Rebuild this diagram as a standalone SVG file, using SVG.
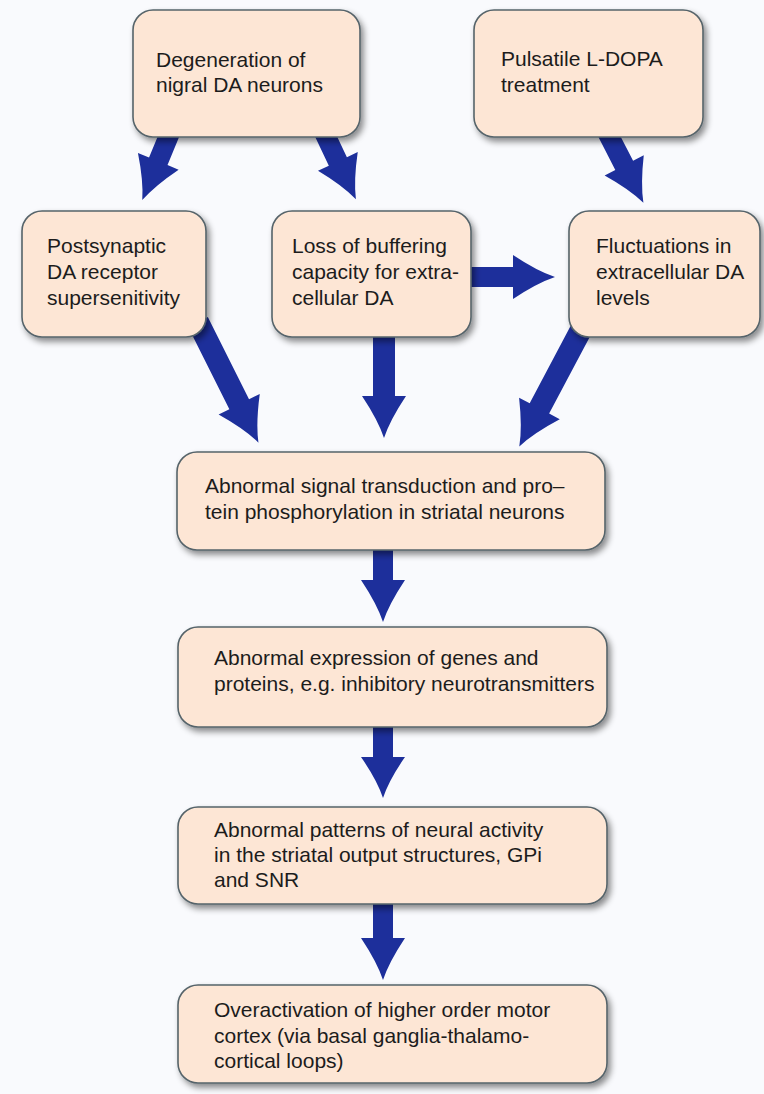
<svg xmlns="http://www.w3.org/2000/svg" width="764" height="1094" viewBox="0 0 764 1094">
<defs>
<style>
.box{fill:#fde6d5;stroke:#56646a;stroke-width:1.6;filter:url(#sh)}
.t{font-family:"Liberation Sans",Arial,sans-serif;font-size:21px;fill:#1c1c1c}
.ar{fill:#1d2f9b}
</style>
<filter id="sh" x="-10%" y="-10%" width="125%" height="130%">
<feDropShadow dx="3" dy="4" stdDeviation="3" flood-color="#000" flood-opacity="0.45"/>
</filter>
</defs>
<rect width="764" height="1094" fill="#f9fafd"/>
<g id="connectors">
<path class="ar" transform="translate(172,128) rotate(22.4)" d="M-10,0 L-10,36 L-22,36 Q-6,60 0,78 Q6,60 22,36 L10,36 L10,0 Z"/>
<path class="ar" transform="translate(322,128) rotate(-25.4)" d="M-10,0 L-10,37 L-22,37 Q-6,61 0,79 Q6,61 22,37 L10,37 L10,0 Z"/>
<path class="ar" transform="translate(605,128) rotate(-27.2)" d="M-10,0 L-10,42 L-22,42 Q-6,66 0,84 Q6,66 22,42 L10,42 L10,0 Z"/>
<path class="ar" transform="translate(465,277) rotate(-90)" d="M-10,0 L-10,48 L-22,48 Q-6,72 0,90 Q6,72 22,48 L10,48 L10,0 Z"/>
<path class="ar" transform="translate(198,322) rotate(-26.6)" d="M-11,0 L-11,92 L-23,92 Q-6,117 0,135 Q6,117 23,92 L11,92 L11,0 Z"/>
<path class="ar" transform="translate(384,330) rotate(0)" d="M-11,0 L-11,66 L-22,66 Q-6,90 0,108 Q6,90 22,66 L11,66 L11,0 Z"/>
<path class="ar" transform="translate(582,328) rotate(27.9)" d="M-11,0 L-11,91 L-23,91 Q-6,116 0,134 Q6,116 23,91 L11,91 L11,0 Z"/>
<path class="ar" transform="translate(383,545) rotate(0)" d="M-10,0 L-10,35 L-22,35 Q-6,59 0,77 Q6,59 22,35 L10,35 L10,0 Z"/>
<path class="ar" transform="translate(383,722) rotate(0)" d="M-10,0 L-10,35 L-22,35 Q-6,58 0,76 Q6,58 22,35 L10,35 L10,0 Z"/>
<path class="ar" transform="translate(383,900) rotate(0)" d="M-10,0 L-10,38 L-22,38 Q-6,62 0,80 Q6,62 22,38 L10,38 L10,0 Z"/>
</g>
<g id="n1"><rect class="box" x="133" y="10" width="227" height="127" rx="20"/>
<text class="t" x="156" y="67">Degeneration of</text><text class="t" x="156" y="92">nigral DA neurons</text></g>
<g id="n2"><rect class="box" x="474" y="10" width="229" height="127" rx="20"/>
<text class="t" x="501" y="66">Pulsatile L-DOPA</text><text class="t" x="501" y="92">treatment</text></g>
<g id="n3"><rect class="box" x="22" y="211" width="184" height="126" rx="20"/>
<text class="t" x="47" y="253">Postsynaptic</text><text class="t" x="47" y="279">DA receptor</text><text class="t" x="47" y="305">supersenitivity</text></g>
<g id="n4"><rect class="box" x="272" y="211" width="199" height="126" rx="20"/>
<text class="t" x="292" y="253">Loss of buffering</text><text class="t" x="292" y="279">capacity for extra-</text><text class="t" x="292" y="305">cellular DA</text></g>
<g id="n5"><rect class="box" x="569" y="211" width="191" height="126" rx="20"/>
<text class="t" x="596" y="253">Fluctuations in</text><text class="t" x="596" y="279">extracellular DA</text><text class="t" x="596" y="305">levels</text></g>
<g id="n6"><rect class="box" x="177" y="452" width="428" height="98" rx="20"/>
<text class="t" x="205" y="493">Abnormal signal transduction and pro–</text><text class="t" x="205" y="519">tein phosphorylation in striatal neurons</text></g>
<g id="n7"><rect class="box" x="178" y="627" width="429" height="100" rx="20"/>
<text class="t" x="214" y="665">Abnormal expression of genes and</text><text class="t" x="214" y="691">proteins, e.g. inhibitory neurotransmitters</text></g>
<g id="n8"><rect class="box" x="178" y="807" width="429" height="97" rx="20"/>
<text class="t" x="214" y="837">Abnormal patterns of neural activity</text><text class="t" x="214" y="862">in the striatal output structures, GPi</text><text class="t" x="214" y="887">and SNR</text></g>
<g id="n9"><rect class="box" x="178" y="985" width="429" height="98" rx="20"/>
<text class="t" x="214" y="1017">Overactivation of higher order motor</text><text class="t" x="214" y="1043">cortex (via basal ganglia-thalamo-</text><text class="t" x="214" y="1068">cortical loops)</text></g>
</svg>
